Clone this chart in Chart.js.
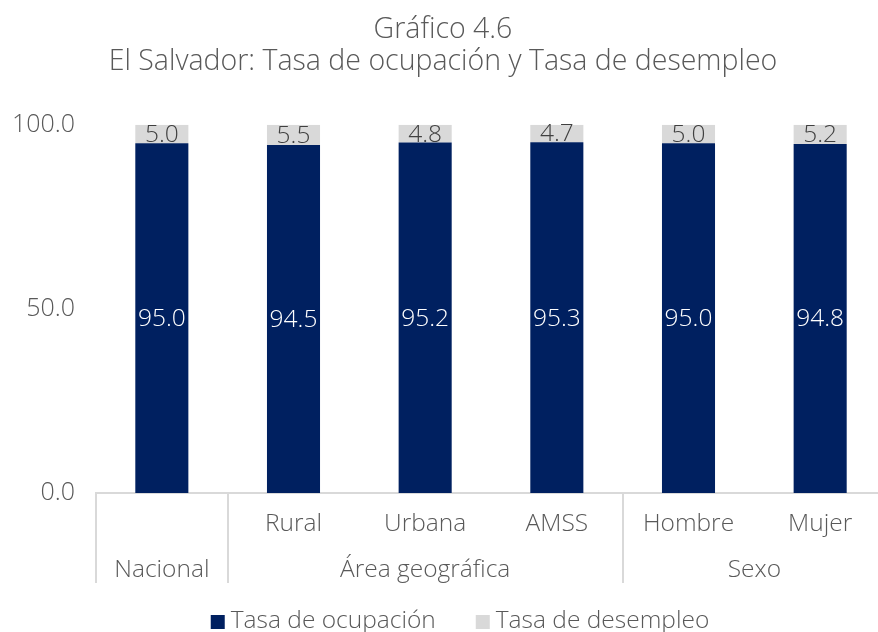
<!DOCTYPE html>
<html lang="es">
<head>
  <meta charset="UTF-8" />
  <title>Gráfico 4.6</title>
  <script src="https://cdn.jsdelivr.net/npm/chart.js"></script>
  <style>
    html, body { margin: 0; padding: 0; background: #fff; overflow: hidden; }
    #wrap { width: 888px; height: 632px; }
  </style>
</head>
<body>
  <div id="wrap"><canvas id="chart" width="888" height="632"></canvas></div>

  <script>
    // data
    const subLabels = ["", "Rural", "Urbana", "AMSS", "Hombre", "Mujer"];
    const groupLabels = ["Nacional", "Área geográfica", "Sexo"];
    const groupStart = [0, 1, 4];
    const groupEnd = [0, 3, 5];
    const ocupacion = [95.0, 94.5, 95.2, 95.3, 95.0, 94.8];
    const desempleo = [5.0, 5.5, 4.8, 4.7, 5.0, 5.2];
    const yTicks = [0, 50, 100];

    const FONT = "'Open Sans', Lato, sans-serif";
    const LABEL_FONT = "300 24.5px " + FONT;
    const TXT = "#595959";
    const NAVY = "#002060";
    const GREY = "#d9d9d9";
    const AXIS_H = 90;

    // multi level category axis, value labels and legend
    const extras = {
      id: "extras",
      afterDatasetsDraw(chart) {
        const ctx = chart.ctx;
        const xs = chart.scales.x;
        const area = chart.chartArea;
        const step = xs.width / subLabels.length;

        ctx.save();
        ctx.font = LABEL_FONT;
        ctx.textAlign = "center";
        ctx.textBaseline = "middle";

        // value labels
        chart.getDatasetMeta(0).data.forEach((bar, i) => {
          ctx.fillStyle = "#ffffff";
          ctx.fillText(ocupacion[i].toFixed(1), bar.x, (bar.y + bar.base) / 2 + 1);
        });
        chart.getDatasetMeta(1).data.forEach((bar, i) => {
          ctx.fillStyle = "#404040";
          ctx.fillText(desempleo[i].toFixed(1), bar.x, (bar.y + bar.base) / 2 + 1);
        });

        // first row
        ctx.fillStyle = TXT;
        subLabels.forEach((lab, i) => {
          ctx.fillText(lab, xs.getPixelForValue(i), area.bottom + 31);
        });

        // second row + separators
        ctx.strokeStyle = GREY;
        ctx.lineWidth = 2;
        groupLabels.forEach((lab, g) => {
          const x0 = xs.getPixelForValue(groupStart[g]) - step / 2;
          const x1 = xs.getPixelForValue(groupEnd[g]) + step / 2;
          ctx.fillText(lab, (x0 + x1) / 2, area.bottom + 77);
          [x0, x1].forEach(x => {
            ctx.beginPath();
            ctx.moveTo(Math.round(x), area.bottom);
            ctx.lineTo(Math.round(x), area.bottom + AXIS_H);
            ctx.stroke();
          });
        });

        // legend
        const box = 14, gap = 6, between = 40;
        const items = chart.data.datasets.map(d => ({
          text: d.label, color: d.backgroundColor, w: box + gap + ctx.measureText(d.label).width
        }));
        const total = items.reduce((s, it) => s + it.w, 0) + between * (items.length - 1);
        let x = chart.width / 2 + 16 - total / 2;
        const ly = area.bottom + AXIS_H + 38;
        ctx.textAlign = "left";
        items.forEach(it => {
          ctx.fillStyle = it.color;
          ctx.fillRect(x, ly - 6, box, box);
          ctx.fillStyle = TXT;
          ctx.fillText(it.text, x + box + gap, ly);
          x += it.w + between;
        });
        ctx.restore();
      }
    };

    new Chart(document.getElementById("chart"), {
      type: "bar",
      data: {
        labels: subLabels,
        datasets: [
          {
            label: "Tasa de ocupación",
            data: ocupacion,
            backgroundColor: NAVY,
            barPercentage: 0.403,
            categoryPercentage: 1
          },
          {
            label: "Tasa de desempleo",
            data: desempleo,
            backgroundColor: GREY,
            barPercentage: 0.403,
            categoryPercentage: 1
          }
        ]
      },
      options: {
        responsive: false,
        animation: false,
        layout: { padding: { top: 0, right: 2, left: 0, bottom: 49 } },
        plugins: {
          title: {
            display: true,
            text: ["Gráfico 4.6", "El Salvador: Tasa de ocupación y Tasa de desempleo"],
            color: TXT,
            font: { family: FONT, size: 28.5, weight: 300, lineHeight: 1.12 },
            padding: { top: 14, bottom: 47 }
          },
          legend: { display: false },
          tooltip: { enabled: false }
        },
        scales: {
          x: {
            stacked: true,
            grid: { display: false },
            border: { display: true, color: GREY, width: 2 },
            ticks: { display: false },
            afterFit(s) { s.height = AXIS_H; }
          },
          y: {
            stacked: true,
            min: 0,
            max: 100,
            grid: { display: false, drawTicks: false },
            border: { display: false },
            afterBuildTicks(s) { s.ticks = yTicks.map(v => ({ value: v })); },
            afterFit(s) { s.width = 96; },
            ticks: {
              color: TXT,
              padding: 21,
              font: { family: FONT, size: 25, weight: 300 },
              callback: v => Number(v).toFixed(1)
            }
          }
        }
      },
      plugins: [extras]
    });
  </script>
</body>
</html>
